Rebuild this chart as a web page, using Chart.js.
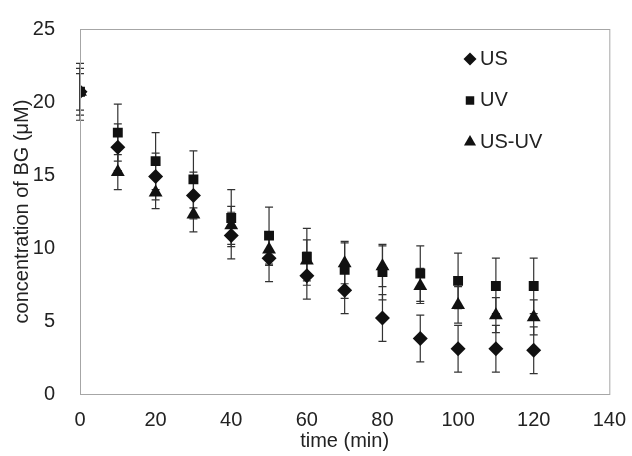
<!DOCTYPE html>
<html>
<head>
<meta charset="utf-8">
<script src="https://cdn.jsdelivr.net/npm/chart.js@4"></script>
<style>
  html, body { margin: 0; padding: 0; background: #fff; }
  #wrap { width: 632px; height: 456px; }
</style>
</head>
<body>
<div id="wrap"><canvas id="bgChart" width="632" height="456"></canvas></div>
<script>
// values
var time = [0, 10, 20, 30, 40, 50, 60, 70, 80, 90, 100, 110, 120];

var US = [20.7, 16.9, 14.9, 13.6, 10.85, 9.3, 8.1, 7.1, 5.2, 3.8, 3.1, 3.1, 3.0];
var US_err = [1.6, 1.6, 1.6, 1.6, 1.6, 1.6, 1.6, 1.6, 1.6, 1.6, 1.6, 1.6, 1.6];

var UV = [20.7, 17.9, 15.95, 14.7, 12.05, 10.85, 9.4, 8.5, 8.35, 8.25, 7.75, 7.4, 7.4];
var UV_err = [1.95, 1.95, 1.95, 1.95, 1.95, 1.95, 1.95, 1.95, 1.9, 1.9, 1.9, 1.9, 1.9];

var USUV = [20.7, 15.2, 13.8, 12.3, 11.55, 9.9, 9.15, 8.95, 8.75, 7.4, 6.1, 5.4, 5.25];
var USUV_err = [1.25, 1.2, 1.1, 1.2, 1.3, 1.1, 1.4, 1.4, 1.4, 1.2, 1.25, 1.2, 1.2];

var xTicks = [0, 20, 40, 60, 80, 100, 120, 140];
var yTicks = [0, 5, 10, 15, 20, 25];

var FONT = "'Liberation Sans', Arial, sans-serif";
var TXT = "#222";

function pts(vals) {
  return time.map(function (t, i) { return { x: t, y: vals[i] }; });
}

// error bars drawn through the scales
var errorBars = {
  id: 'errorBars',
  beforeDatasetsDraw: function (chart) {
    var ctx = chart.ctx, xs = chart.scales.x, ys = chart.scales.y;
    ctx.save();
    ctx.strokeStyle = "#333";
    ctx.lineWidth = 1.2;
    chart.data.datasets.forEach(function (ds) {
      ds.data.forEach(function (p, i) {
        var e = ds.errors[i];
        var px = xs.getPixelForValue(p.x);
        var hi = ys.getPixelForValue(p.y + e);
        var lo = ys.getPixelForValue(p.y - e);
        ctx.beginPath();
        ctx.moveTo(px, hi); ctx.lineTo(px, lo);
        ctx.moveTo(px - 4, hi); ctx.lineTo(px + 4, hi);
        ctx.moveTo(px - 4, lo); ctx.lineTo(px + 4, lo);
        ctx.stroke();
      });
    });
    ctx.restore();
  }
};

// box round the plot area + legend inside it
var frameLegend = {
  id: 'frameLegend',
  afterDraw: function (chart) {
    var ctx = chart.ctx, a = chart.chartArea;
    ctx.save();
    ctx.strokeStyle = "#a6a6a6";
    ctx.lineWidth = 1;
    ctx.strokeRect(a.left + 0.5, a.top + 0.5, a.right - a.left, a.bottom - a.top);

    var lx = a.left + 390, ly = a.top + 30, step = 41.5;
    ctx.font = "20px " + FONT;
    ctx.textBaseline = "middle";
    chart.data.datasets.forEach(function (ds, i) {
      var y = ly + i * step;
      ctx.fillStyle = "#111";
      ctx.strokeStyle = "#111";
      Chart.helpers.drawPoint(ctx, { pointStyle: ds.pointStyle, radius: ds.pointRadius - 1, rotation: 0, borderWidth: 0 }, lx, y);
      ctx.fillStyle = TXT;
      ctx.fillText(ds.label, lx + 10, y);
    });
    ctx.restore();
  }
};

var canvas = document.getElementById("bgChart");
var bgChart = new Chart(canvas, {
  type: 'scatter',
  data: {
    datasets: [
      { label: "US", data: pts(US), errors: US_err, pointStyle: 'rectRot', pointRadius: 7.5,
        backgroundColor: "#111", borderColor: "#111", borderWidth: 0 },
      { label: "UV", data: pts(UV), errors: UV_err, pointStyle: 'rect', pointRadius: 7,
        backgroundColor: "#111", borderColor: "#111", borderWidth: 0 },
      { label: "US-UV", data: pts(USUV), errors: USUV_err, pointStyle: 'triangle', pointRadius: 8,
        backgroundColor: "#111", borderColor: "#111", borderWidth: 0 }
    ]
  },
  options: {
    responsive: false,
    animation: false,
    layout: { padding: { left: 0, right: 11, top: 23, bottom: 0 } },
    plugins: { legend: { display: false }, tooltip: { enabled: false } },
    scales: {
      x: {
        type: 'linear', min: 0, max: 140,
        afterBuildTicks: function (s) { s.ticks = xTicks.map(function (v) { return { value: v }; }); },
        grid: { display: false },
        border: { display: false },
        ticks: { font: { family: FONT, size: 20 }, color: TXT, padding: 6, maxRotation: 0 },
        title: { display: true, text: "time (min)", font: { family: FONT, size: 20 }, color: TXT, padding: { top: 0, bottom: 3 } },
        afterFit: function (s) { s.height = 62; }
      },
      y: {
        type: 'linear', min: 0, max: 25,
        afterBuildTicks: function (s) { s.ticks = yTicks.map(function (v) { return { value: v }; }); },
        grid: { display: false },
        border: { display: false },
        ticks: { font: { family: FONT, size: 20 }, color: TXT, padding: 17 },
        title: { display: true, text: "concentration of BG (μM)", font: { family: FONT, size: 20 }, color: TXT, padding: { top: 10, bottom: 0 } },
        afterFit: function (s) { s.width = 80; }
      }
    }
  },
  plugins: [errorBars, frameLegend]
});
</script>
</body>
</html>
